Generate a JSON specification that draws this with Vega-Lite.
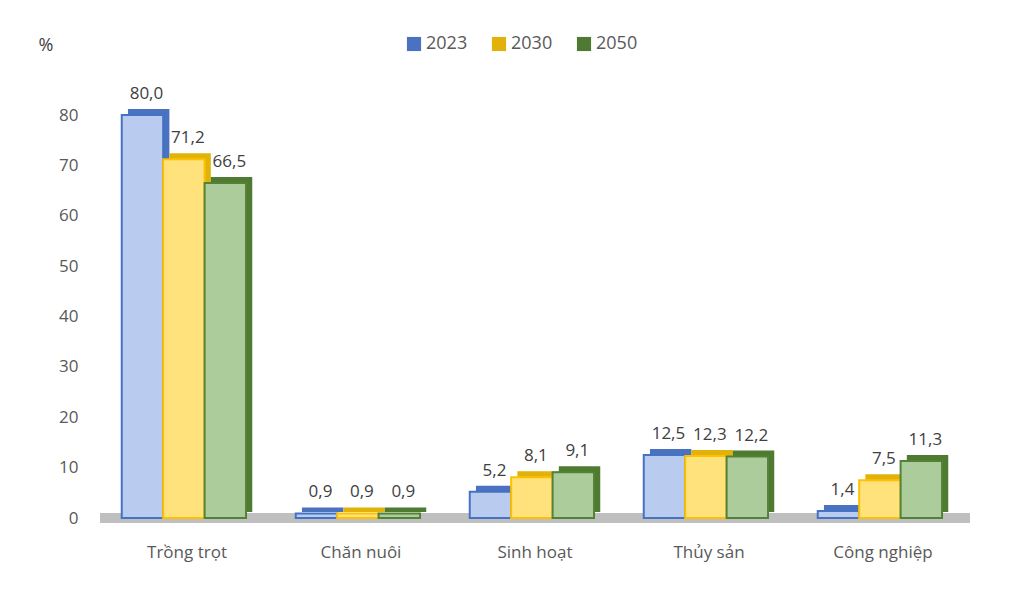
{
  "$schema": "https://vega.github.io/schema/vega-lite/v6.json",
  "width": 870,
  "height": 403,
  "autosize": "none",
  "padding": {"left": 100, "top": 115, "right": 57, "bottom": 76},
  "background": "white",
  "config": {
    "view": {"stroke": null},
    "font": "Open Sans",
    "locale": {"number": {"decimal": ",", "thousands": ".", "grouping": [3], "currency": ["", ""]}}
  },
  "data": {
    "values": [
      {"cat": "Trồng trọt", "year": "2023", "v": 80.0},
      {"cat": "Trồng trọt", "year": "2030", "v": 71.2},
      {"cat": "Trồng trọt", "year": "2050", "v": 66.5},
      {"cat": "Chăn nuôi", "year": "2023", "v": 0.9},
      {"cat": "Chăn nuôi", "year": "2030", "v": 0.9},
      {"cat": "Chăn nuôi", "year": "2050", "v": 0.9},
      {"cat": "Sinh hoạt", "year": "2023", "v": 5.2},
      {"cat": "Sinh hoạt", "year": "2030", "v": 8.1},
      {"cat": "Sinh hoạt", "year": "2050", "v": 9.1},
      {"cat": "Thủy sản", "year": "2023", "v": 12.5},
      {"cat": "Thủy sản", "year": "2030", "v": 12.3},
      {"cat": "Thủy sản", "year": "2050", "v": 12.2},
      {"cat": "Công nghiệp", "year": "2023", "v": 1.4},
      {"cat": "Công nghiệp", "year": "2030", "v": 7.5},
      {"cat": "Công nghiệp", "year": "2050", "v": 11.3}
    ]
  },
  "resolve": {"scale": {"xOffset": "independent"}},
  "encoding": {
    "x": {
      "field": "cat", "type": "nominal", "sort": null,
      "scale": {"paddingInner": 0.25, "paddingOuter": 0.125},
      "axis": {"title": null, "labelAngle": 0, "domain": false, "ticks": false, "labelPadding": 26, "labelFontSize": 17, "labelColor": "#595959", "labelFont": "Open Sans"}
    },
    "y": {
      "field": "v", "type": "quantitative",
      "scale": {"domain": [0, 80], "nice": false},
      "axis": {"values": [0, 10, 20, 30, 40, 50, 60, 70, 80], "grid": false, "domain": false, "ticks": false, "labelPadding": 22, "labelFontSize": 17, "labelColor": "#595959", "labelFont": "Open Sans",
        "title": "%", "titleAngle": 0, "titleX": -62, "titleY": -70, "titleAlign": "left", "titleBaseline": "middle", "titleFontSize": 18, "titleFontWeight": "normal", "titleColor": "#404040", "titleFont": "Open Sans"}
    }
  },
  "layer": [
    {
      "mark": {"type": "rule", "color": "#bfbfbf", "strokeWidth": 10},
      "encoding": {"y": {"datum": 0}, "x": null}
    },
    {
      "mark": {"type": "bar", "yOffset": -6, "y2Offset": -6, "stroke": null},
      "encoding": {
        "xOffset": {"field": "year", "type": "nominal", "scale": {"paddingInner": 0, "paddingOuter": 0.075, "align": 1}},
        "fill": {
          "field": "year", "type": "nominal",
          "scale": {"domain": ["2023", "2030", "2050"], "range": ["#4a72c0", "#e0b20a", "#4f7a32"]},
          "legend": {"orient": "none", "legendX": 305, "legendY": -80, "direction": "horizontal", "title": null, "symbolType": "square", "symbolSize": 200, "symbolStrokeWidth": 0, "labelFontSize": 18, "labelColor": "#595959", "labelFont": "Open Sans", "columnPadding": 22, "labelOffset": 3}
        }
      }
    },
    {
      "mark": {"type": "bar", "strokeWidth": 2},
      "encoding": {
        "xOffset": {"field": "year", "type": "nominal", "scale": {"paddingInner": 0, "paddingOuter": 0.075, "align": 0}},
        "color": {
          "field": "year", "type": "nominal",
          "scale": {"domain": ["2023", "2030", "2050"], "range": ["#b9cbee", "#ffe27c", "#adcc9c"]},
          "legend": null
        },
        "stroke": {
          "field": "year", "type": "nominal",
          "scale": {"domain": ["2023", "2030", "2050"], "range": ["#4472c4", "#ffc000", "#548235"]},
          "legend": null
        }
      }
    },
    {
      "mark": {"type": "text", "baseline": "bottom", "dy": -12, "dx": 4, "fontSize": 17, "color": "#404040", "font": "Open Sans"},
      "encoding": {
        "xOffset": {"field": "year", "type": "nominal", "scale": {"type": "band", "paddingInner": 0, "paddingOuter": 0.075, "align": 0}},
        "text": {"field": "v", "type": "quantitative", "format": ".1f"}
      }
    }
  ]
}
